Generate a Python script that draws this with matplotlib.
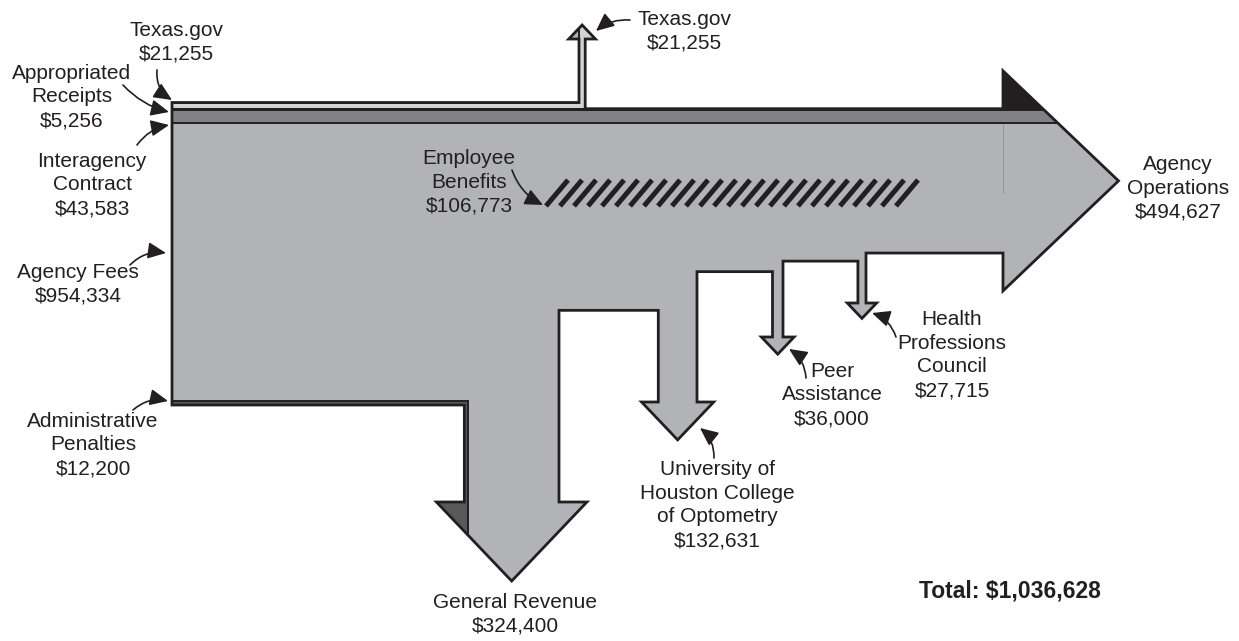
import numpy as np
import matplotlib
matplotlib.use('Agg')
import matplotlib.pyplot as plt
from matplotlib.path import Path
from matplotlib.patches import PathPatch, Polygon

# sources, top to bottom on the left edge
src_names = ['Texas.gov', 'Appropriated\nReceipts', 'Interagency\nContract',
             'Agency Fees', 'Administrative\nPenalties']
src_values = [21255, 5256, 43583, 954334, 12200]

# uses
use_names = ['Texas.gov', 'Agency\nOperations', 'Health\nProfessions\nCouncil',
             'Peer\nAssistance', 'University of\nHouston College\nof Optometry',
             'General Revenue']
use_values = [21255, 494627, 27715, 36000, 132631, 324400]

benefit_name = 'Employee\nBenefits'
benefit_value = 106773

total = sum(src_values)

# colours
c_main = '#b1b3b6'
c_light = '#d1d3d4'
c_black = '#231f20'
c_dark = '#808285'
c_pen = '#58595b'

plt.rcParams['font.family'] = ['Liberation Sans', 'DejaVu Sans']

fig = plt.figure(figsize=(12.39, 6.41), dpi=100)
ax = fig.add_axes([0, 0, 1, 1])
ax.set_xlim(0, 1239)
ax.set_ylim(641, 0)
ax.axis('off')

# vertical scale: pixels per dollar
y_top, y_bot = 102.5, 405.0
k = (y_bot - y_top) / total
x0 = 172


def ext(w):
    return 9 + 0.2 * w


# cumulative band edges of the uses (top to bottom)
w_use = [v * k for v in use_values]
edges = y_top + np.concatenate([[0], np.cumsum(w_use)])
w_tx, w_ao, w_hpc, w_peer, w_uh, w_gr = w_use

# layout positions
tx_l = 579
tx_base = 39
ao_x = 1003
hpc_r, hpc_base = 866, 303
peer_r, peer_base = 783, 337
uh_r, uh_base = 697, 402
gr_r, gr_base = 559, 502

pts = [(x0, edges[0])]
# Texas.gov, up
tx_r = tx_l + w_tx
e = ext(w_tx)
pts += [(tx_l, edges[0]), (tx_l, tx_base), (tx_l - e, tx_base),
        ((tx_l + tx_r) / 2, tx_base - 1.05 * (e + w_tx / 2)),
        (tx_r + e, tx_base), (tx_r, tx_base), (tx_r, edges[1])]
# Agency operations, right
e = ext(w_ao)
yc = (edges[1] + edges[2]) / 2
pts += [(ao_x, edges[1]), (ao_x, edges[1] - e),
        (ao_x + 1.05 * (e + w_ao / 2), yc),
        (ao_x, edges[2] + e), (ao_x, edges[2])]
# the downward branches, right to left
for xr, base, w, ytop in [(hpc_r, hpc_base, w_hpc, edges[2]),
                          (peer_r, peer_base, w_peer, edges[3]),
                          (uh_r, uh_base, w_uh, edges[4]),
                          (gr_r, gr_base, w_gr, edges[5])]:
    xl = xr - w
    e = ext(w)
    pts += [(xr, ytop), (xr, base), (xr + e, base),
            ((xl + xr) / 2, base + 1.05 * (e + w / 2)),
            (xl - e, base), (xl, base), (xl, ytop + w)]
pts += [(x0, edges[6])]

outline = Path(pts + [pts[0]], closed=True)
shape = PathPatch(outline, facecolor=c_main, edgecolor='none', zorder=1)
ax.add_patch(shape)

# source bands, clipped to the outline
s_edges = y_top + np.concatenate([[0], np.cumsum([v * k for v in src_values])])
pen_x = gr_r - w_gr + src_values[4] * k
bands = [
    (c_light, [(x0, s_edges[0]), (tx_l, s_edges[0]), (tx_l, 0), (tx_r + 40, 0),
               (tx_r + 40, s_edges[1]), (x0, s_edges[1])]),
    (c_black, [(x0, s_edges[1]), (ao_x, s_edges[1]), (ao_x, 0), (1239, 0),
               (1239, s_edges[2]), (x0, s_edges[2])]),
    (c_dark, [(x0, s_edges[2]), (1239, s_edges[2]), (1239, s_edges[3]),
              (x0, s_edges[3])]),
    (c_pen, [(x0, s_edges[4]), (pen_x, s_edges[4]), (pen_x, 641), (x0, 641)]),
]
for col, poly in bands:
    p = Polygon(poly, closed=True, facecolor=col, edgecolor=c_black,
                lw=1.4, zorder=2)
    ax.add_patch(p)
    p.set_clip_path(shape)

# faint seam inside the big arrow
ax.plot([ao_x, ao_x], [s_edges[3] + 1, 193], color='#909295', lw=0.6, zorder=2)

ax.add_patch(PathPatch(outline, facecolor='none', edgecolor=c_black,
                       lw=2.0, joinstyle='miter', zorder=3))

# employee benefits stripes
n_str = 26
for i in range(n_str):
    xs = 546 + i * 14.0
    ax.plot([xs, xs + 22], [206, 180], color=c_black, lw=3.6,
            solid_capstyle='butt', zorder=4)

# labels
fs = 15
txt = dict(ha='center', va='center', fontsize=fs, color='#231f20',
           linespacing=1.32, zorder=5)

def money(v):
    return '${:,}'.format(v)

src_pos = [(176, 42), (72, 97), (92, 185), (78, 284), (93, 445)]
for n, v, (x, y) in zip(src_names, src_values, src_pos):
    ax.text(x, y, n + '\n' + money(v), **txt)

use_pos = [(684, 31), (1178, 188), (952, 355), (832, 395), (717, 505), (515, 614)]
for n, v, (x, y) in zip(use_names, use_values, use_pos):
    ax.text(x, y, n + '\n' + money(v), **txt)

ax.text(469, 182, benefit_name + '\n' + money(benefit_value), **txt)
ax.text(1010, 591, 'Total: ' + money(total), ha='center', va='center',
        fontsize=16.5, fontweight='bold', color='#231f20')

# pointer arrows: (tail, tip, rad)
pointers = [((157, 70), (172, 100), 0.3),
            ((123, 85), (169, 112), 0.15),
            ((137, 145), (169, 125), -0.2),
            ((130, 265), (166, 253), -0.25),
            ((133, 410), (168, 401), -0.25),
            ((512, 170), (543, 205), 0.2),
            ((630, 20), (596, 31), 0.2),
            ((806, 378), (789, 349), 0.25),
            ((896, 337), (872, 313), 0.25),
            ((714, 458), (700, 428), 0.25)]
for tail, tip, rad in pointers:
    ax.annotate('', xy=tip, xytext=tail, zorder=6,
                arrowprops=dict(arrowstyle='-|>,head_length=0.55,head_width=0.25',
                                mutation_scale=20, color=c_black, lw=1.2,
                                shrinkA=0, shrinkB=0,
                                connectionstyle='arc3,rad=%s' % rad))

fig.savefig('out.png', dpi=100)
